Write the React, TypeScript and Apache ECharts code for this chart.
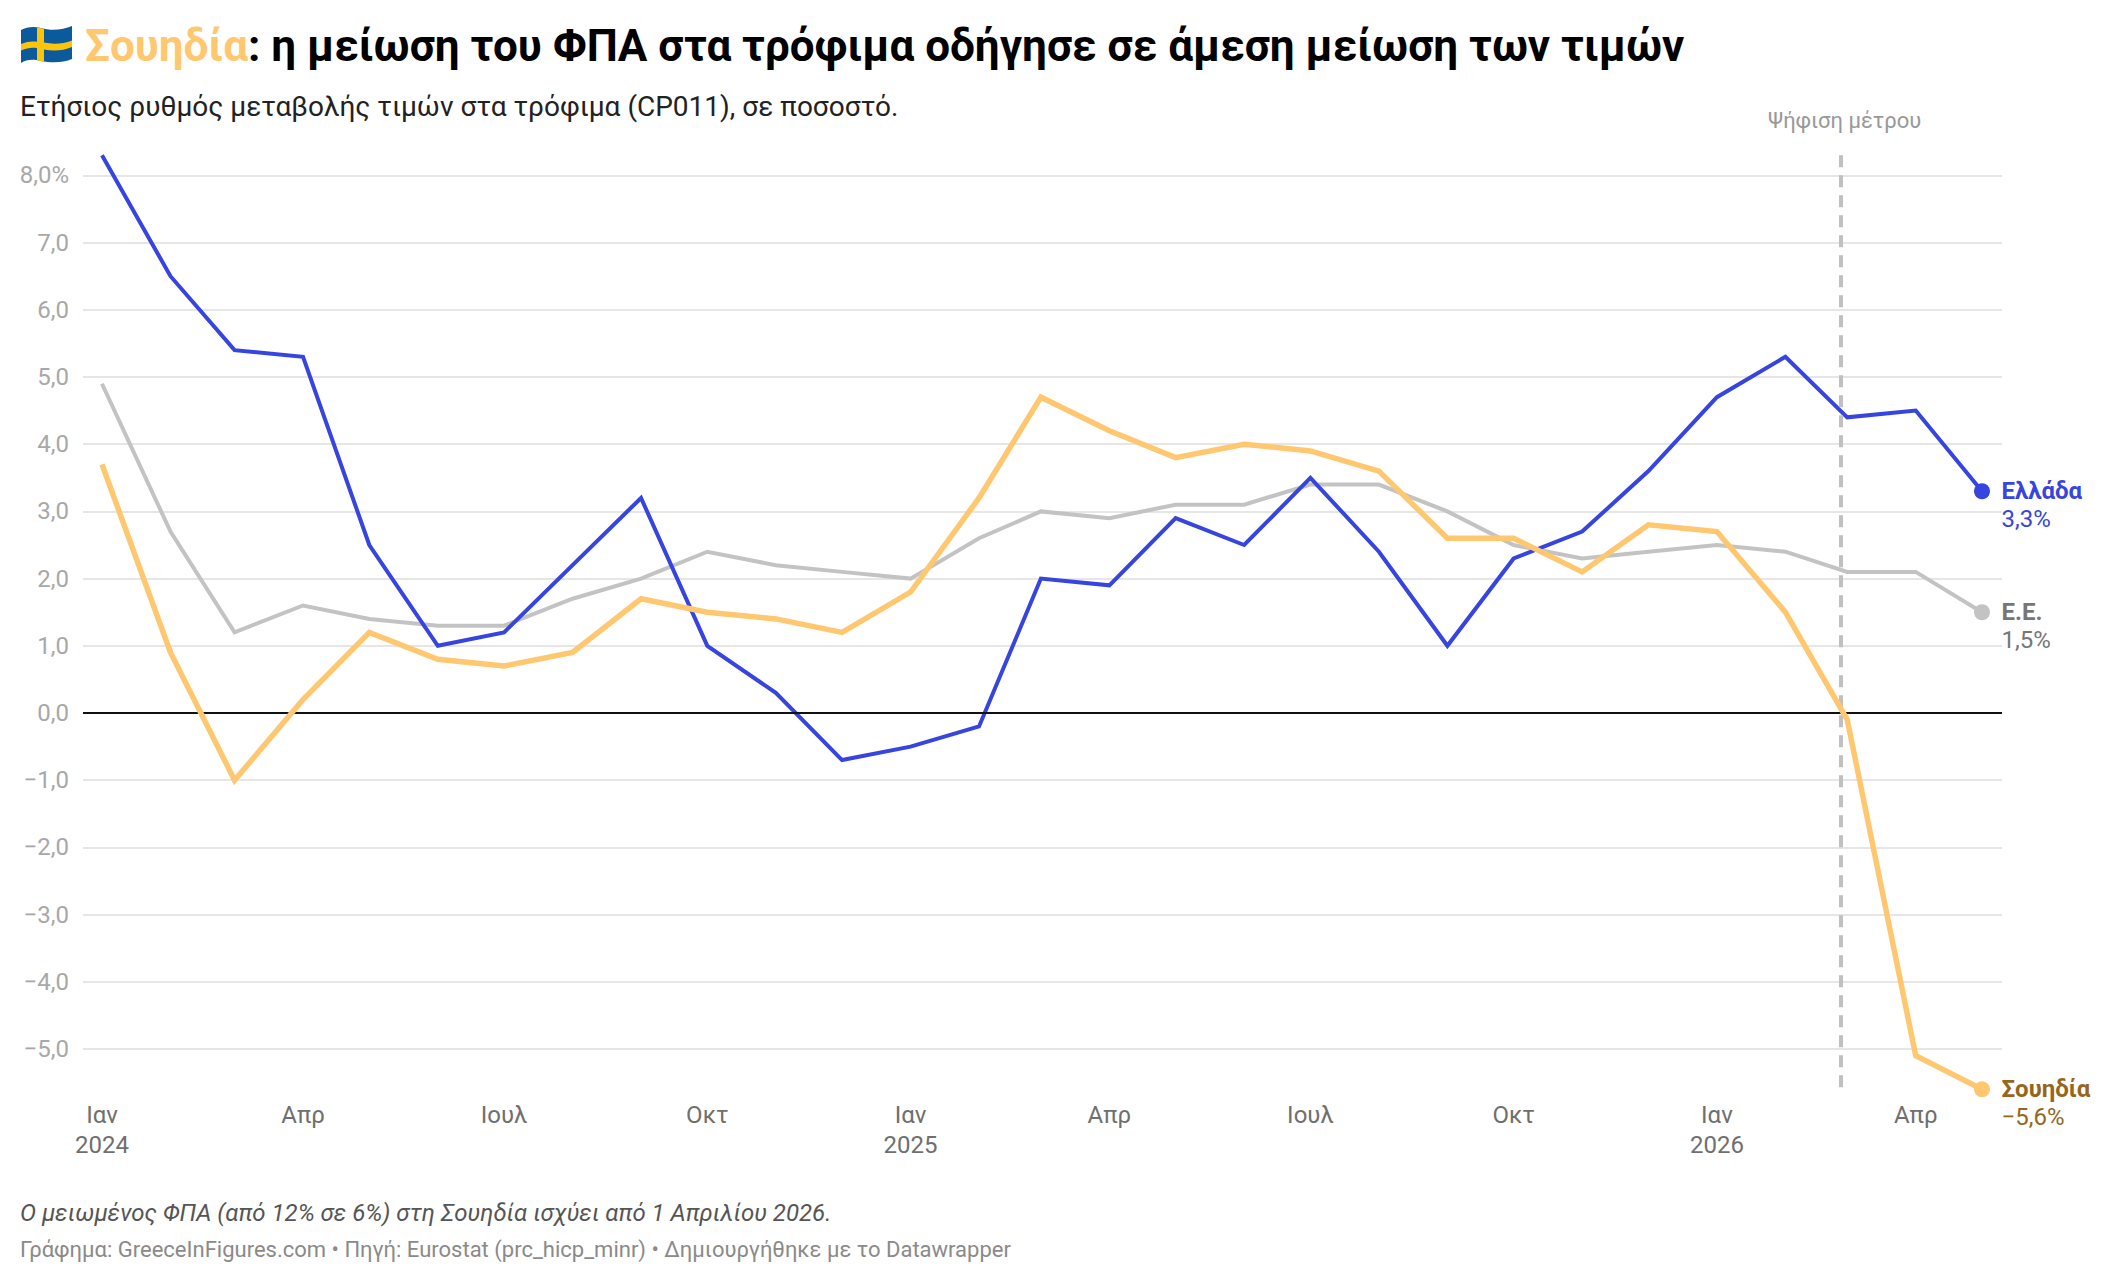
import React, { useEffect, useRef } from "react";
import * as echarts from "echarts";

const dates = [
  "2024-01-01","2024-02-01","2024-03-01","2024-04-01","2024-05-01","2024-06-01","2024-07-01","2024-08-01","2024-09-01","2024-10-01","2024-11-01","2024-12-01",
  "2025-01-01","2025-02-01","2025-03-01","2025-04-01","2025-05-01","2025-06-01","2025-07-01","2025-08-01","2025-09-01","2025-10-01","2025-11-01","2025-12-01",
  "2026-01-01","2026-02-01","2026-03-01","2026-04-01","2026-05-01",
];
const greece = [8.3,6.5,5.4,5.3,2.5,1.0,1.2,2.2,3.2,1.0,0.3,-0.7,-0.5,-0.2,2.0,1.9,2.9,2.5,3.5,2.4,1.0,2.3,2.7,3.6,4.7,5.3,4.4,4.5,3.3];
const eu = [4.9,2.7,1.2,1.6,1.4,1.3,1.3,1.7,2.0,2.4,2.2,2.1,2.0,2.6,3.0,2.9,3.1,3.1,3.4,3.4,3.0,2.5,2.3,2.4,2.5,2.4,2.1,2.1,1.5];
const sweden = [3.7,0.9,-1.0,0.2,1.2,0.8,0.7,0.9,1.7,1.5,1.4,1.2,1.8,3.2,4.7,4.2,3.8,4.0,3.9,3.6,2.6,2.6,2.1,2.8,2.7,1.5,-0.1,-5.1,-5.6];
const yTicks = [-5,-4,-3,-2,-1,0,1,2,3,4,5,6,7,8];
const xTickDates = ["2024-01-01","2024-04-01","2024-07-01","2024-10-01","2025-01-01","2025-04-01","2025-07-01","2025-10-01","2026-01-01","2026-04-01"];
const monthNames: Record<number,string> = {0:"Ιαν",3:"Απρ",6:"Ιουλ",9:"Οκτ"};
const measureDate = "2026-02-26";
const measureTop = 8.3;
const measureBottom = -5.6;

const FONT = "Roboto";
const DAY = 86400000;
const PX_PER_DAY = 1880/851;
const ts = (d: string) => new Date(d + "T00:00:00Z").getTime();

const FLAG_BG = "M0 4C6 1 12 0 20 2C30 5 42 4 51 0V33C42 37 30 37 20 35C12 33 6 33 0 37Z";
const FLAG_CROSS = "M16 1.5L23 2.8V16.5C32 18.5 42 18 51 14.5V21C42 25 32 25 23 23.5V36L16 34.3V22C10 21.3 6 22 0 24.5V18C6 15.6 10 15 16 15.7Z";

const fmtNum = (v: number) => v.toFixed(1).replace(".", ",").replace("-", "\u2212");

const lineSeries = (name: string, data: number[], color: string, width: number, labelColor: string, z: number) => ({
  type: "line", name, z,
  data: dates.map((d, i) => [ts(d), data[i]]),
  showSymbol: false,
  symbol: "none",
  clip: false,
  lineStyle: { color, width, join: "miter", cap: "butt" },
  itemStyle: { color },
  endLabel: {
    show: true,
    formatter: () => `{n|${name}}\n{v|${fmtNum(data[data.length-1])}%}`,
    align: "left",
    verticalAlign: "top",
    offset: [11.5, -14],
    rich: {
      n: { fontFamily: FONT, fontSize: 24, fontWeight: 700, color: labelColor, lineHeight: 28 },
      v: { fontFamily: FONT, fontSize: 24, fontWeight: 400, color: labelColor, lineHeight: 28 },
    },
  },
  markPoint: {
    symbol: "circle", symbolSize: 16, silent: true,
    itemStyle: { color },
    label: { show: false },
    data: [{ coord: [ts(dates[dates.length-1]), data[data.length-1]] }],
  },
});

export default function App() {
  const ref = useRef<HTMLDivElement>(null);
  useEffect(() => {
    document.body.style.margin = "0";
    echarts.graphic.registerShape("seflagbg", echarts.graphic.extendPath(FLAG_BG, {}));
    echarts.graphic.registerShape("seflagcross", echarts.graphic.extendPath(FLAG_CROSS, {}));
    const chart = echarts.init(ref.current!, undefined, { renderer: "svg" });
    chart.setOption({
      animation: false,
      useUTC: true,
      backgroundColor: "#fff",
      textStyle: { fontFamily: FONT },
      grid: { left: 83, width: 1919, top: 713 - 9*67.2, height: 15*67.2 },
      xAxis: {
        type: "value",
        scale: true,
        min: ts("2024-01-01") - (19/PX_PER_DAY)*DAY,
        max: ts("2024-01-01") + ((1919-19)/PX_PER_DAY)*DAY,
        axisLine: { show: false },
        axisTick: { show: false, customValues: xTickDates.map(ts) },
        splitLine: { show: false },
        axisLabel: {
          customValues: xTickDates.map(ts),
          formatter: (v: number) => {
            const d = new Date(v);
            const m = monthNames[d.getUTCMonth()] ?? "";
            return d.getUTCMonth() === 0 ? `${m}\n${d.getUTCFullYear()}` : m;
          },
          color: "#6f6f6f",
          fontFamily: FONT,
          fontSize: 24,
          lineHeight: 30,
          margin: -16,
          hideOverlap: false,
          showMinLabel: true,
          showMaxLabel: true,
          verticalAlign: "top",
        },
      },
      yAxis: {
        type: "value",
        min: -6,
        max: 9,
        interval: 1,
        axisLine: { show: false },
        axisTick: { show: false, customValues: yTicks },
        splitLine: { show: true, lineStyle: { color: "#e6e6e6", width: 2 } },
        axisLabel: {
          customValues: yTicks,
          formatter: (v: number) => (v === 8 ? "8,0%" : fmtNum(v)),
          color: "#a8a8a8",
          fontFamily: FONT,
          fontSize: 24,
          margin: 14,
        },
      },
      series: [
        {
          type: "line", data: [], silent: true, z: 1,
          markLine: {
            silent: true, symbol: "none", animation: false,
            lineStyle: { color: "#111", width: 2, type: "solid" },
            label: { show: false },
            data: [{ yAxis: 0 }],
          },
        },
        {
          ...lineSeries("Ε.Ε.", eu, "#c3c3c3", 4, "#767676", 3),
          markLine: {
            silent: true, symbol: "none", animation: false,
            lineStyle: { color: "#c0c0c0", width: 4, type: [12, 8] },
            label: {
              show: true, position: "start", formatter: "Ψήφιση μέτρου", color: "#999999",
              fontFamily: FONT, fontSize: 22, distance: 14, offset: [4, -10],
            },
            data: [[
              { xAxis: ts(measureDate), yAxis: measureTop },
              { xAxis: ts(measureDate), yAxis: measureBottom },
            ]],
          },
        },
        lineSeries("Ελλάδα", greece, "#3644e0", 4, "#3644e0", 4),
        lineSeries("Σουηδία", sweden, "#ffc870", 5.5, "#96661c", 5),
      ],
      graphic: [
        { type: "seflagbg", x: 21, y: 26, style: { fill: "#0a5a9c" } },
        { type: "seflagcross", x: 21, y: 26, style: { fill: "#fcc40a" } },
        {
          type: "text", x: 85, y: 46,
          style: {
            text: "{a|Σουηδία}{b|: η μείωση του ΦΠΑ στα τρόφιμα οδήγησε σε άμεση μείωση των τιμών}",
            verticalAlign: "middle",
            rich: {
              a: { fontFamily: FONT, fontSize: 44, fontWeight: 700, fill: "#ffc870" },
              b: { fontFamily: FONT, fontSize: 44, fontWeight: 700, fill: "#000" },
            },
          },
        },
        { type: "text", x: 20, y: 106, style: { text: "Ετήσιος ρυθμός μεταβολής τιμών στα τρόφιμα (CP011), σε ποσοστό.", fontFamily: FONT, fontSize: 28, fill: "#222", verticalAlign: "middle" } },
        { type: "text", x: 20, y: 1213, style: { text: "Ο μειωμένος ΦΠΑ (από 12% σε 6%) στη Σουηδία ισχύει από 1 Απριλίου 2026.", fontFamily: FONT, fontStyle: "italic", fontSize: 24, fill: "#555", verticalAlign: "middle" } },
        { type: "text", x: 20, y: 1249, style: { text: "Γράφημα: GreeceInFigures.com • Πηγή: Eurostat (prc_hicp_minr) • Δημιουργήθηκε με το Datawrapper", fontFamily: FONT, fontSize: 22, fill: "#8a8a8a", verticalAlign: "middle" } },
      ],
    });
    return () => chart.dispose();
  }, []);
  return <div ref={ref} style={{ position: "absolute", left: 0, top: 0, width: 2112, height: 1284 }} />;
}
